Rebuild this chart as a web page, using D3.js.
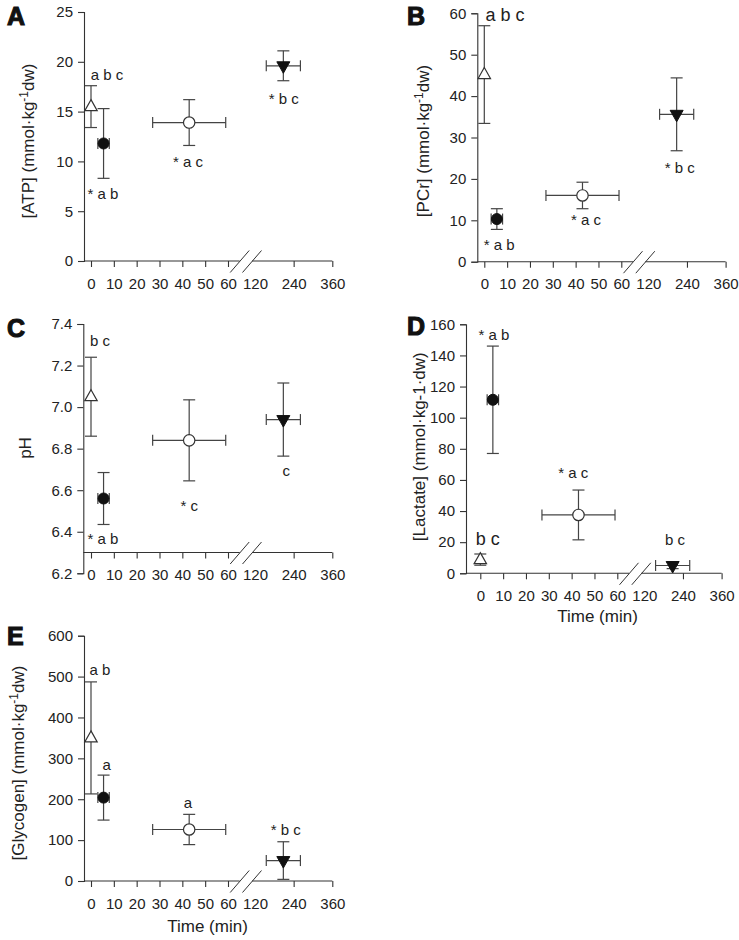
<!DOCTYPE html>
<html><head><meta charset="utf-8">
<script src="https://cdn.jsdelivr.net/npm/d3@7"></script>
<style>
html,body{margin:0;padding:0;background:#fff;}
svg{display:block;font-family:"Liberation Sans",Arial,Helvetica,sans-serif;}
</style></head>
<body>
<svg id="chart" width="739" height="940"></svg>
<script>
// ---------- DATA ----------
const groups = ["triUp", "circleFill", "circleOpen", "triDown"];
const timeMean = [0, 5.5, 43, 208];
const timeSD   = [0, 2.5, 16, 53];
const xTickValues = [0, 10, 20, 30, 40, 50, 60, 120, 240, 360];

const atpMean = [15.5, 11.8, 13.9, 19.6];
const atpSD   = [2.1, 3.5, 2.3, 1.5];
const pcrMean = [45.2, 10.3, 16.0, 35.6];
const pcrSD   = [11.8, 2.5, 3.2, 8.8];
const phMean  = [7.05, 6.56, 6.84, 6.94];
const phSD    = [0.19, 0.125, 0.195, 0.176];
const lacMean = [8.8, 111.5, 37.5, 5.0];
const lacSD   = [3.6, 34.5, 16.0, 2.0];
const glyMean = [350, 204, 126, 50];
const glySD   = [137, 55, 37, 46];

const atpTicks = [0, 5, 10, 15, 20, 25];
const pcrTicks = [0, 10, 20, 30, 40, 50, 60];
const phTicks  = [6.2, 6.4, 6.6, 6.8, 7.0, 7.2, 7.4];
const lacTicks = [0, 20, 40, 60, 80, 100, 120, 140, 160];
const glyTicks = [0, 100, 200, 300, 400, 500, 600];

const atpLabels = ["a b c", "* a b", "* a c", "* b c"];
const pcrLabels = ["a b c", "* a b", "* a c", "* b c"];
const phLabels  = ["b c", "* a b", "* c", "c"];
const lacLabels = ["b c", "* a b", "* a c", "b c"];
const glyLabels = ["a b", "a", "a", "* b c"];

// ---------- LAYOUT ----------
const panels = [
  {letter:"A", lx:7, ly:25, yAxisX:84, x0:91, yTop:12, yBot:261, dom:[0,25], axisAt:0, ticks:atpTicks, fmt:d3.format("d"),
   mean:atpMean, sd:atpSD, labels:atpLabels,
   labT:[7,5.2,42.5,209], labV:[18.7,6.8,10.0,16.3], labSize:[15,15,15,15],
   title:["[ATP] (mmol·kg","-1","dw)"], tx:34, ty:141, xTitle:null},
  {letter:"B", lx:407, ly:25, yAxisX:477.3, x0:484.3, yTop:13.3, yBot:261.7, dom:[0,60], axisAt:0, ticks:pcrTicks, fmt:d3.format("d"),
   mean:pcrMean, sd:pcrSD, labels:pcrLabels,
   labT:[9.1,6.5,44.5,218], labV:[59.6,4.0,10.1,22.6], labSize:[18,15,15,15],
   title:["[PCr] (mmol·kg","-1","dw)"], tx:429, ty:141, xTitle:null},
  {letter:"C", lx:7, ly:336.5, yAxisX:83.3, x0:91, yTop:324, yBot:573.3, dom:[6.2,7.4], axisAt:6.3, ticks:phTicks, fmt:d3.format(".1f"),
   mean:phMean, sd:phSD, labels:phLabels,
   labT:[3.9,5.2,43,217], labV:[7.32,6.364,6.524,6.693], labSize:[15,15,15,15],
   title:["pH"], tx:30.5, ty:448, xTitle:null},
  {letter:"D", lx:407, ly:335, yAxisX:466, x0:480.3, yTop:324.3, yBot:573.3, dom:[0,160], axisAt:0, ticks:lacTicks, fmt:d3.format("d"),
   mean:lacMean, sd:lacSD, labels:lacLabels,
   labT:[3.3,6.0,40.7,215], labV:[22,153.6,64.3,21.4], labSize:[18,15,15,15],
   title:["[Lactate] (mmol·kg-1·dw)"], tx:425, ty:446.7, xTitle:[597.5,621.5]},
  {letter:"E", lx:7, ly:645, yAxisX:84, x0:91, yTop:635.7, yBot:881, dom:[0,600], axisAt:0, ticks:glyTicks, fmt:d3.format("d"),
   mean:glyMean, sd:glySD, labels:glyLabels,
   labT:[3.9,6.9,42.4,215.7], labV:[517.6,285,191,124.7], labSize:[15,15,15,15],
   title:["[Glycogen] (mmol·kg","-1","dw)"], tx:23.5, ty:763, xTitle:[207.5,931.5]}
];

const svg = d3.select("#chart");
const axisCol = "#333", textCol = "#222", errCol = "#444";

panels.forEach(p => {
  const g = svg.append("g");
  const x = d3.scaleLinear().domain([0, 60, 120, 360]).range([p.x0, p.x0 + 137, p.x0 + 164, p.x0 + 241.3]);
  const y = d3.scaleLinear().domain(p.dom).range([p.yBot, p.yTop]);
  const axY = y(p.axisAt);

  // panel letter
  g.append("text").attr("x", p.lx).attr("y", p.ly).attr("font-size", 25).attr("font-weight", 700)
    .attr("fill", "#111").attr("stroke", "#111").attr("stroke-width", 1.1).text(p.letter);

  // y axis
  const ya = g.append("g").attr("transform", `translate(${p.yAxisX},0)`)
    .call(d3.axisLeft(y).tickValues(p.ticks).tickFormat(p.fmt).tickSize(6).tickPadding(5));
  ya.select(".domain").attr("stroke", axisCol).attr("stroke-width", 1.1);
  ya.selectAll(".tick line").attr("stroke", axisCol).attr("stroke-width", 1.1);
  ya.selectAll(".tick text").attr("font-size", 15).attr("fill", textCol).attr("font-family", "Liberation Sans, Arial, sans-serif");

  // x axis
  const xa = g.append("g").attr("transform", `translate(0,${axY})`)
    .call(d3.axisBottom(x).tickValues(xTickValues).tickFormat(d3.format("d")).tickSize(6).tickPadding(11));
  xa.select(".domain").remove();
  xa.selectAll(".tick line").attr("stroke", axisCol).attr("stroke-width", 1.1)
    .attr("display", d => d === 120 ? "none" : null);
  xa.selectAll(".tick text").attr("font-size", 15).attr("fill", textCol).attr("font-family", "Liberation Sans, Arial, sans-serif");

  // broken axis line
  const b1 = x(60) + 11.7, b2 = x(60) + 24;
  g.append("line").attr("x1", p.yAxisX).attr("x2", b1).attr("y1", axY).attr("y2", axY)
    .attr("stroke", axisCol).attr("stroke-width", 1.1);
  g.append("line").attr("x1", b2).attr("x2", x(360)).attr("y1", axY).attr("y2", axY)
    .attr("stroke", axisCol).attr("stroke-width", 1.1);
  [b1, b2].forEach(bx => {
    g.append("line").attr("x1", bx - 9.5).attr("y1", axY + 11.5).attr("x2", bx + 9.5).attr("y2", axY - 10.5)
      .attr("stroke", axisCol).attr("stroke-width", 1);
  });

  // y title
  const tt = g.append("text").attr("transform", `translate(${p.tx},${p.ty}) rotate(-90)`)
    .attr("text-anchor", "middle").attr("font-size", 17).attr("fill", textCol);
  if (p.title.length === 3) {
    tt.append("tspan").text(p.title[0]);
    tt.append("tspan").attr("dy", -6).attr("font-size", 12).text(p.title[1]);
    tt.append("tspan").attr("dy", 6).text(p.title[2]);
  } else {
    tt.text(p.title[0]);
  }

  if (p.xTitle) {
    g.append("text").attr("x", p.xTitle[0]).attr("y", p.xTitle[1]).attr("text-anchor", "middle")
      .attr("font-size", 17).attr("fill", textCol).text("Time (min)");
  }

  // error bars
  const eb = g.append("g").attr("stroke", errCol).attr("stroke-width", 1.2).attr("fill", "none");
  groups.forEach((grp, i) => {
    const cx = x(timeMean[i]), cy = y(p.mean[i]);
    const yHi = y(p.mean[i] + p.sd[i]), yLo = y(p.mean[i] - p.sd[i]);
    eb.append("line").attr("x1", cx).attr("x2", cx).attr("y1", yHi).attr("y2", yLo);
    eb.append("line").attr("x1", cx - 6).attr("x2", cx + 6).attr("y1", yHi).attr("y2", yHi);
    eb.append("line").attr("x1", cx - 6).attr("x2", cx + 6).attr("y1", yLo).attr("y2", yLo);
    if (timeSD[i] > 0) {
      const xL = x(timeMean[i] - timeSD[i]), xR = x(timeMean[i] + timeSD[i]);
      eb.append("line").attr("x1", xL).attr("x2", xR).attr("y1", cy).attr("y2", cy);
      eb.append("line").attr("x1", xL).attr("x2", xL).attr("y1", cy - 5.5).attr("y2", cy + 5.5);
      eb.append("line").attr("x1", xR).attr("x2", xR).attr("y1", cy - 5.5).attr("y2", cy + 5.5);
    }
  });

  // markers
  groups.forEach((grp, i) => {
    const cx = x(timeMean[i]), cy = y(p.mean[i]);
    const m = g.append("g").attr("transform", `translate(${cx},${cy})`);
    if (grp === "triUp") {
      m.append("path").attr("d", "M0,-7 L6.2,4 L-6.2,4 Z").attr("fill", "#fff").attr("stroke", "#333").attr("stroke-width", 1.2);
    } else if (grp === "circleFill") {
      m.append("circle").attr("r", 5.5).attr("fill", "#111").attr("stroke", "#111");
    } else if (grp === "circleOpen") {
      m.append("circle").attr("r", 5.7).attr("fill", "#fff").attr("stroke", "#333").attr("stroke-width", 1.2);
    } else {
      m.append("path").attr("d", "M-6.5,-4 L6.5,-4 L0,7.5 Z").attr("fill", "#111").attr("stroke", "#111").attr("stroke-width", 1);
    }
  });

  // significance labels
  p.labels.forEach((t, i) => {
    g.append("text").attr("x", x(p.labT[i])).attr("y", y(p.labV[i])).attr("dy", "0.35em")
      .attr("text-anchor", "middle").attr("font-size", p.labSize[i]).attr("fill", textCol).text(t);
  });
});
</script>
</body></html>
